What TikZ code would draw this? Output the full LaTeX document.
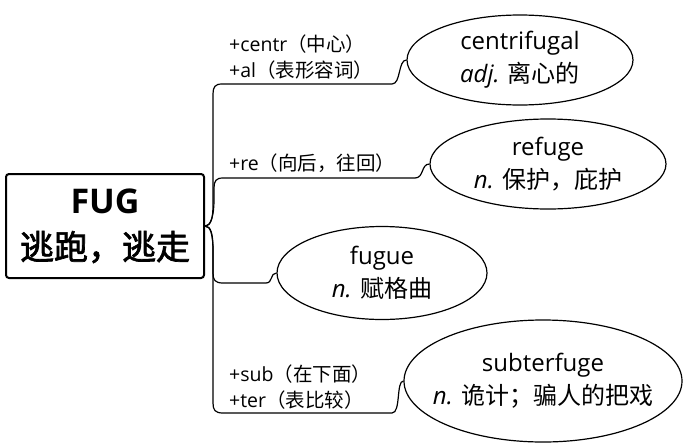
\documentclass[tikz,border=0pt]{standalone}
\usepackage{fontspec}
\setmainfont{Open Sans}
\newfontfamily\cjk{Noto Sans CJK SC}[AutoFakeBold=2]
\usetikzlibrary{shapes.geometric}

\begin{document}
\begin{tikzpicture}[x=1pt,y=-1pt,
  word/.style={ellipse,draw,line width=1.2pt,inner sep=0pt,align=center,
    font=\fontsize{24}{33}\selectfont},
  affix/.style={anchor=south west,align=left,inner sep=0pt,
    font=\fontsize{19.5}{26}\selectfont},
  branch/.style={line width=1.2pt}]
  \useasboundingbox (0,0) rectangle (684,447);
  % root
  \node[draw,line width=2pt,rounded corners=3pt,minimum width=198pt,minimum height=104pt,
    align=center,font=\bfseries\fontsize{34}{46}\selectfont] (fug) at (105,226)
    {FUG\\{\cjk 逃跑，逃走}};
  % words
  \node[word,minimum width=226pt,minimum height=90pt] (centrifugal) at (520,60)
    {centrifugal\\\textit{adj.} {\cjk 离心的}};
  \node[word,minimum width=236pt,minimum height=90pt] (refuge) at (548,164)
    {refuge\\\textit{n.} {\cjk 保护，庇护}};
  \node[word,minimum width=210pt,minimum height=93pt] (fugue) at (382,273)
    {fugue\\\textit{n.} {\cjk 赋格曲}};
  \node[word,inner xsep=-16pt,minimum width=278pt,minimum height=122pt] (subterfuge) at (543,381)
    {subterfuge\\\textit{n.} {\cjk 诡计；骗人的把戏}};
  % affixes
  \node[affix] (centr) at (229,80) {+centr{\cjk（中心）}\\+al{\cjk（表形容词）}};
  \node[affix] (re) at (229,173) {+re{\cjk（向后，往回）}};
  \node[affix] (sub) at (229,410) {+sub{\cjk（在下面）}\\+ter{\cjk（表比较）}};
  % branches
  \draw[branch] (fug.east) .. controls (211,226) and (213,218) .. (213,205) -- (213,94)
    .. controls (213,87) and (215,84) .. (222,84) -- (392,84)
    .. controls (401,84) and (398,60) .. (centrifugal.west);
  \draw[branch] (fug.east) .. controls (211,226) and (214,215) .. (214,200) -- (214,188)
    .. controls (214,181) and (216,178) .. (223,178) -- (415,178)
    .. controls (424,178) and (421,164) .. (refuge.west);
  \draw[branch] (fug.east) .. controls (211,226) and (213,234) .. (213,250) -- (213,273)
    .. controls (213,280) and (215,283) .. (223,283) -- (266,283)
    .. controls (273,283) and (270,273) .. (fugue.west);
  \draw[branch] (fug.east) .. controls (211,226) and (213,236) .. (213,252) -- (213,403)
    .. controls (213,410) and (215,413) .. (223,413) -- (392,413)
    .. controls (401,413) and (396,381) .. (subterfuge.west);
\end{tikzpicture}
\end{document}
